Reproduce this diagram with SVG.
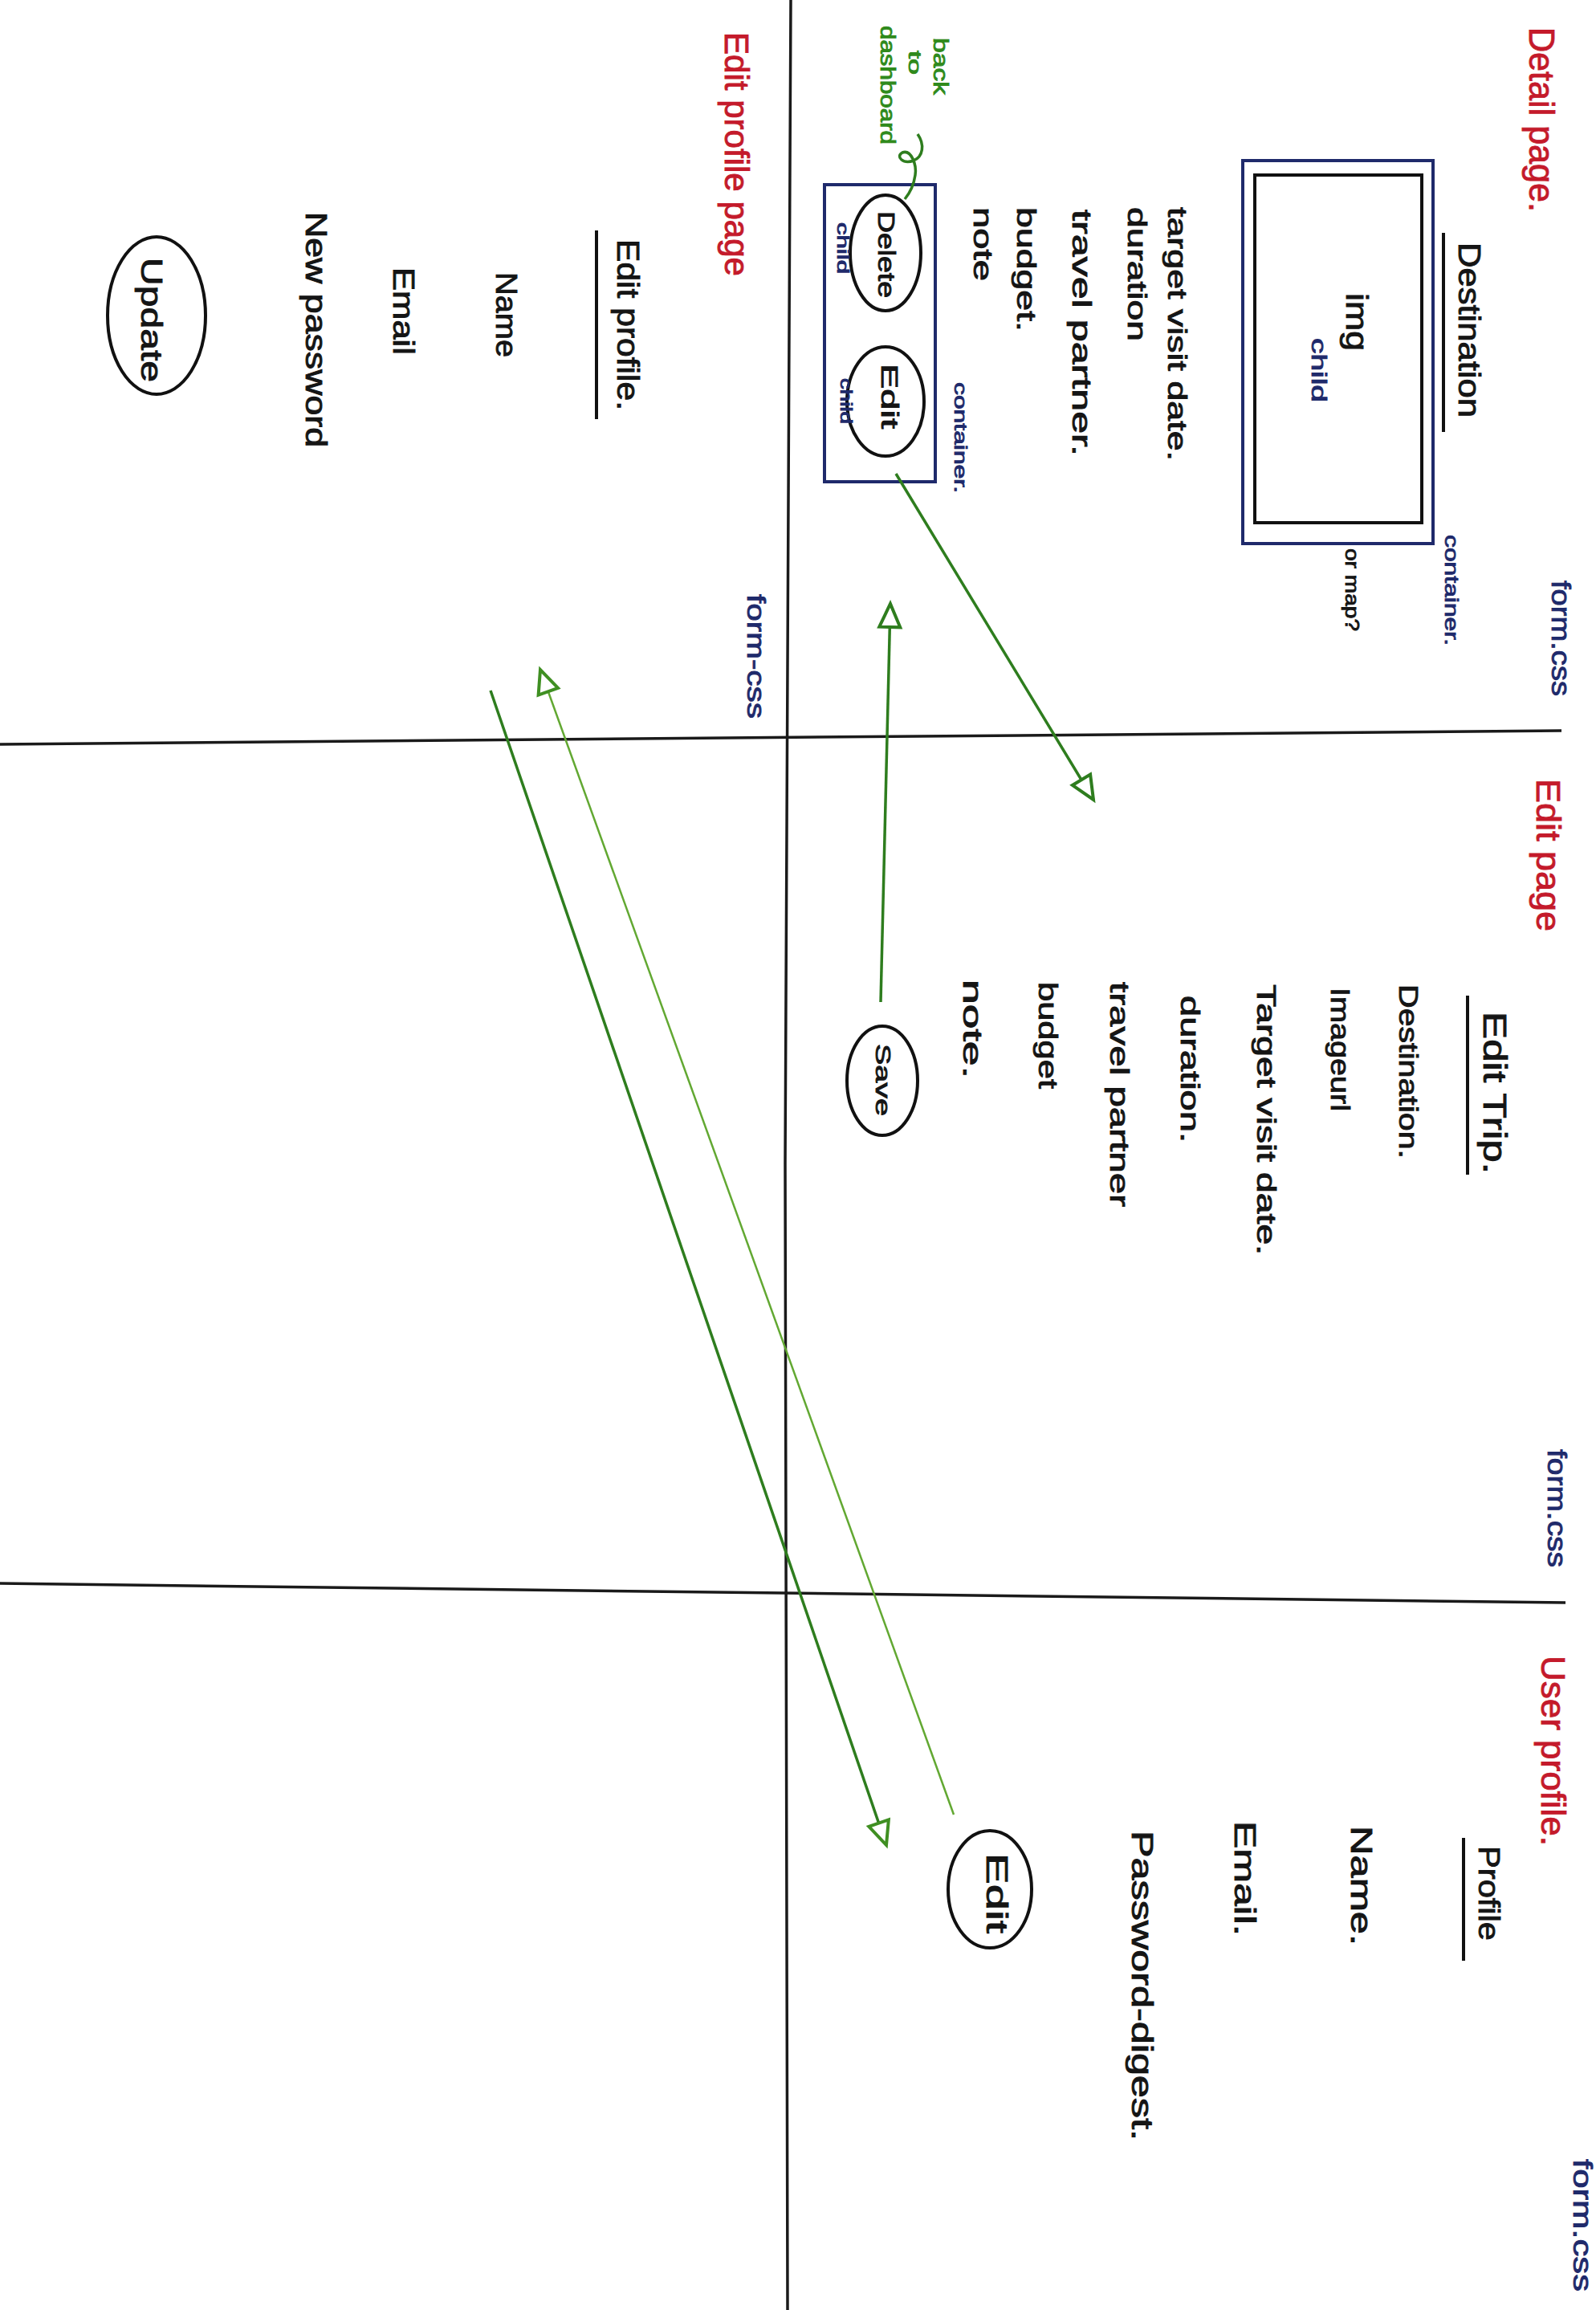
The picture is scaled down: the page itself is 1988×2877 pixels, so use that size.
<svg xmlns="http://www.w3.org/2000/svg" width="1988" height="2877" viewBox="0 0 1988 2877">
<style>
text{font-family:"Liberation Sans",Arial,sans-serif;dominant-baseline:central;fill:#151515;stroke:#151515;stroke-width:0.9}
.red{fill:#c41a2b;stroke:#c41a2b}
.navy{fill:#1f2a6b;stroke:#1f2a6b}
.grn{fill:#2f8a1c;stroke:#2f8a1c}
.grid{stroke:#1a1a1a;stroke-width:3.5;fill:none}
.ink{stroke:#111;stroke-width:4;fill:none}
.nbox{stroke:#1f2a6b;stroke-width:4;fill:none}
.btn{stroke:#111;stroke-width:4;fill:none}
.conn{stroke:#2e7d1e;stroke-width:3.5;fill:none}
.connl{stroke:#62a832;stroke-width:2.5;fill:none}
</style>
<defs>
<marker id="ah" markerUnits="userSpaceOnUse" markerWidth="40" markerHeight="36" refX="32" refY="16" orient="auto">
<path d="M3,3 L32,16 L3,29 Z" fill="#fff" stroke="#2e7d1e" stroke-width="4"/>
</marker>
<marker id="ahl" markerUnits="userSpaceOnUse" markerWidth="40" markerHeight="36" refX="32" refY="16" orient="auto">
<path d="M3,3 L32,16 L3,29 Z" fill="#fff" stroke="#3f8f22" stroke-width="4"/>
</marker>
</defs>
<rect width="1988" height="2877" fill="#fff"/>

<g id="grid">
<path class="grid" d="M985,0 L978,1450 L981,2877"/>
<path class="grid" d="M0,927 L1945,910"/>
<path class="grid" d="M0,1972 L1950,1996"/>
</g>

<g id="detail-page">
<text class="red" font-size="44" textLength="230" lengthAdjust="spacingAndGlyphs" transform="translate(1920,34) rotate(90)">Detail page.</text>
<text class="navy" font-size="34" textLength="144" lengthAdjust="spacingAndGlyphs" transform="translate(1945,723) rotate(90)">form.css</text>
<text font-size="38" textLength="218" lengthAdjust="spacingAndGlyphs" transform="translate(1830,302) rotate(90)">Destination</text>
<line class="ink" x1="1798" y1="290" x2="1798" y2="538"/>
<g id="image-container">
<rect class="nbox" x="1548" y="200" width="237" height="477"/>
<rect class="ink" x="1563" y="218" width="208" height="433"/>
<text font-size="38" textLength="72" lengthAdjust="spacingAndGlyphs" transform="translate(1690,365) rotate(90)">img</text>
<text class="navy" font-size="26" textLength="80" lengthAdjust="spacingAndGlyphs" transform="translate(1643,421) rotate(90)">child</text>
<text class="navy" font-size="24" textLength="138" lengthAdjust="spacingAndGlyphs" transform="translate(1808,666) rotate(90)">container.</text>
<text font-size="24" textLength="103" lengthAdjust="spacingAndGlyphs" transform="translate(1684,683) rotate(90)">or map?</text>
</g>
<text font-size="34" textLength="316" lengthAdjust="spacingAndGlyphs" transform="translate(1467,258) rotate(90)">target visit date.</text>
<text font-size="34" textLength="167" lengthAdjust="spacingAndGlyphs" transform="translate(1417,258) rotate(90)">duration</text>
<text font-size="34" textLength="307" lengthAdjust="spacingAndGlyphs" transform="translate(1348,261) rotate(90)">travel partner.</text>
<text font-size="34" textLength="155" lengthAdjust="spacingAndGlyphs" transform="translate(1279,258) rotate(90)">budget.</text>
<text font-size="34" textLength="92" lengthAdjust="spacingAndGlyphs" transform="translate(1225,258) rotate(90)">note</text>
<g id="button-container">
<rect class="nbox" x="1027" y="230" width="138" height="370"/>
<text class="navy" font-size="22" textLength="138" lengthAdjust="spacingAndGlyphs" transform="translate(1196,476) rotate(90)">container.</text>
</g>
<g id="delete-btn">
<ellipse class="btn" cx="1103" cy="315" rx="44" ry="72"/>
<text font-size="30" textLength="108" lengthAdjust="spacingAndGlyphs" transform="translate(1104,263) rotate(90)">Delete</text>
<text class="navy" font-size="20" textLength="64" lengthAdjust="spacingAndGlyphs" transform="translate(1050,277) rotate(90)">child</text>
</g>
<g id="detail-edit-btn">
<ellipse class="btn" cx="1103" cy="500" rx="48" ry="68"/>
<text font-size="30" textLength="81" lengthAdjust="spacingAndGlyphs" transform="translate(1108,453) rotate(90)">Edit</text>
<text class="navy" font-size="20" textLength="57" lengthAdjust="spacingAndGlyphs" transform="translate(1054,471) rotate(90)">child</text>
</g>
<g id="back-label">
<text class="grn" font-size="26" textLength="71" lengthAdjust="spacingAndGlyphs" transform="translate(1172,47) rotate(90)">back</text>
<text class="grn" font-size="22" textLength="30" lengthAdjust="spacingAndGlyphs" transform="translate(1139,63) rotate(90)">to</text>
<text class="grn" font-size="26" textLength="148" lengthAdjust="spacingAndGlyphs" transform="translate(1106,32) rotate(90)">dashboard</text>
</g>
</g>

<g id="edit-profile-page">
<text class="red" font-size="42" textLength="304" lengthAdjust="spacingAndGlyphs" transform="translate(917,40) rotate(90)">Edit profile page</text>
<text class="navy" font-size="32" textLength="155" lengthAdjust="spacingAndGlyphs" transform="translate(942,740) rotate(90)">form-css</text>
<text font-size="38" textLength="213" lengthAdjust="spacingAndGlyphs" transform="translate(782,298) rotate(90)">Edit profile.</text>
<line class="ink" x1="743" y1="287" x2="743" y2="522"/>
<text font-size="36" textLength="106" lengthAdjust="spacingAndGlyphs" transform="translate(630,339) rotate(90)">Name</text>
<text font-size="36" textLength="109" lengthAdjust="spacingAndGlyphs" transform="translate(502,333) rotate(90)">Email</text>
<text font-size="36" textLength="293" lengthAdjust="spacingAndGlyphs" transform="translate(393,264) rotate(90)">New password</text>
<g id="update-btn">
<ellipse class="btn" cx="195" cy="393" rx="61" ry="98"/>
<text font-size="36" textLength="155" lengthAdjust="spacingAndGlyphs" transform="translate(188,321) rotate(90)">Update</text>
</g>
</g>

<g id="edit-page">
<text class="red" font-size="42" textLength="190" lengthAdjust="spacingAndGlyphs" transform="translate(1928,970) rotate(90)">Edit page</text>
<text font-size="40" textLength="202" lengthAdjust="spacingAndGlyphs" transform="translate(1862,1260) rotate(90)">Edit Trip.</text>
<line class="ink" x1="1828" y1="1240" x2="1828" y2="1463"/>
<text font-size="34" textLength="217" lengthAdjust="spacingAndGlyphs" transform="translate(1755,1226) rotate(90)">Destination.</text>
<text font-size="34" textLength="154" lengthAdjust="spacingAndGlyphs" transform="translate(1670,1230) rotate(90)">Imageurl</text>
<text font-size="34" textLength="337" lengthAdjust="spacingAndGlyphs" transform="translate(1578,1226) rotate(90)">Target visit date.</text>
<text font-size="34" textLength="183" lengthAdjust="spacingAndGlyphs" transform="translate(1483,1240) rotate(90)">duration.</text>
<text font-size="34" textLength="280" lengthAdjust="spacingAndGlyphs" transform="translate(1395,1223) rotate(90)">travel partner</text>
<text font-size="34" textLength="133" lengthAdjust="spacingAndGlyphs" transform="translate(1306,1223) rotate(90)">budget</text>
<text font-size="34" textLength="123" lengthAdjust="spacingAndGlyphs" transform="translate(1212,1220) rotate(90)">note.</text>
<g id="save-btn">
<ellipse class="btn" cx="1099" cy="1346" rx="44" ry="68"/>
<text font-size="26" textLength="90" lengthAdjust="spacingAndGlyphs" transform="translate(1100,1300) rotate(90)">Save</text>
</g>
<text class="navy" font-size="34" textLength="147" lengthAdjust="spacingAndGlyphs" transform="translate(1940,1805) rotate(90)">form.css</text>
</g>

<g id="user-profile">
<text class="red" font-size="42" textLength="237" lengthAdjust="spacingAndGlyphs" transform="translate(1934,2062) rotate(90)">User profile.</text>
<text font-size="36" textLength="118" lengthAdjust="spacingAndGlyphs" transform="translate(1854,2299) rotate(90)">Profile</text>
<line class="ink" x1="1823" y1="2289" x2="1823" y2="2442"/>
<text font-size="36" textLength="149" lengthAdjust="spacingAndGlyphs" transform="translate(1695,2274) rotate(90)">Name.</text>
<text font-size="36" textLength="143" lengthAdjust="spacingAndGlyphs" transform="translate(1550,2268) rotate(90)">Email.</text>
<text font-size="36" textLength="386" lengthAdjust="spacingAndGlyphs" transform="translate(1422,2280) rotate(90)">Password-digest.</text>
<g id="profile-edit-btn">
<ellipse class="btn" cx="1233" cy="2353" rx="52" ry="73"/>
<text font-size="36" textLength="100" lengthAdjust="spacingAndGlyphs" transform="translate(1241,2308) rotate(90)">Edit</text>
</g>
<text class="navy" font-size="34" textLength="165" lengthAdjust="spacingAndGlyphs" transform="translate(1972,2689) rotate(90)">form.css</text>
</g>

<g id="connectors">
<path class="conn" d="M1116,590 L1362,996" marker-end="url(#ah)"/>
<path class="conn" d="M1097,1248 L1109,752" marker-end="url(#ah)"/>
<path class="conn" d="M611,860 L1104,2298" marker-end="url(#ahl)"/>
<path class="connl" d="M1188,2260 L673,834" marker-end="url(#ahl)"/>
<path class="conn" d="M1143,167 C1152,180 1150,195 1138,200 C1125,205 1115,195 1124,190 C1135,186 1142,205 1140,218 C1138,232 1132,242 1127,248"/>
</g>
</svg>
